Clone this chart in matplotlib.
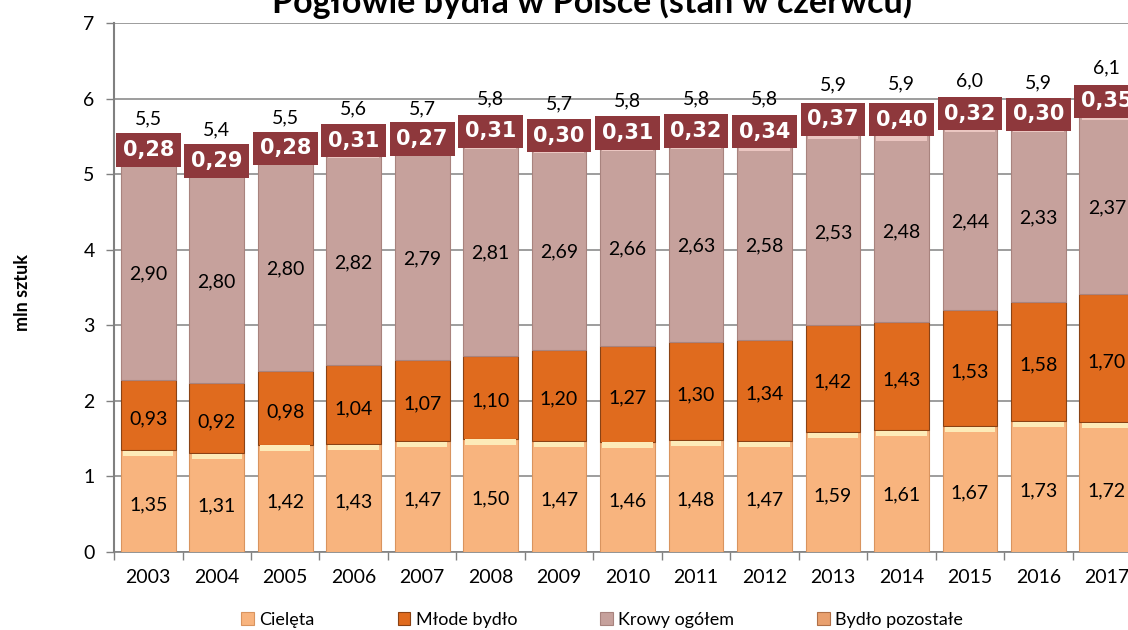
import matplotlib.pyplot as plt
import numpy as np

# data
years = ["2003", "2004", "2005", "2006", "2007", "2008", "2009", "2010",
         "2011", "2012", "2013", "2014", "2015", "2016", "2017"]
cieleta = [1.35, 1.31, 1.42, 1.43, 1.47, 1.50, 1.47, 1.46, 1.48, 1.47, 1.59, 1.61, 1.67, 1.73, 1.72]
mlode = [0.93, 0.92, 0.98, 1.04, 1.07, 1.10, 1.20, 1.27, 1.30, 1.34, 1.42, 1.43, 1.53, 1.58, 1.70]
krowy = [2.90, 2.80, 2.80, 2.82, 2.79, 2.81, 2.69, 2.66, 2.63, 2.58, 2.53, 2.48, 2.44, 2.33, 2.37]
pozostale = [0.28, 0.29, 0.28, 0.31, 0.27, 0.31, 0.30, 0.31, 0.32, 0.34, 0.37, 0.40, 0.32, 0.30, 0.35]
totals = [5.5, 5.4, 5.5, 5.6, 5.7, 5.8, 5.7, 5.8, 5.8, 5.8, 5.9, 5.9, 6.0, 5.9, 6.1]
series_names = ["Cielęta", "Młode bydło", "Krowy ogółem", "Bydło pozostałe"]

plt.rcParams["font.family"] = ["Lato", "DejaVu Sans"]

def fmt(v, n=2):
    return f"{v:.{n}f}".replace(".", ",")

fig = plt.figure(figsize=(11.28, 6.3), dpi=100)
# plot area runs off the right edge like in the reference
ax = fig.add_axes([0.1011, 0.1238, 0.9105, 0.8397])

x = np.arange(len(years))
w = 0.8
colors = ["#F8B47E", "#E06B1E", "#C6A19C", "#E9A06E"]
edges = ["#D9945F", "#8A4214", "#A8837E", "#B07048"]
highlights = ["#FDEBB8", None, "#EBC6C1", None]

#// stacked bars
bottom = np.zeros(len(years))
bars = []
for vals, c, ec, hl, name in zip([cieleta, mlode, krowy, pozostale], colors, edges, highlights, series_names):
    b = ax.bar(x, vals, w, bottom=bottom, color=c, edgecolor=ec, linewidth=0.8, label=name, zorder=3)
    bars.append(b)
    top = bottom + np.array(vals)
    # bevel highlight at top of segment
    if hl:
        ax.bar(x, 0.07, w * 0.92, bottom=top - 0.08, color=hl, linewidth=0, zorder=3.5)
    bottom = top

#// segment labels
b1 = np.zeros(len(years))
for vals in [cieleta, mlode, krowy]:
    for i, v in enumerate(vals):
        ax.text(x[i], b1[i] + v / 2 - 0.05, fmt(v), ha="center", va="center", fontsize=14, color="black", zorder=5)
    b1 = b1 + np.array(vals)

# boxed labels for Bydło pozostałe
for i, v in enumerate(pozostale):
    ax.text(x[i], b1[i] + v / 2, fmt(v), ha="center", va="center", fontsize=15, fontweight="bold",
            family="DejaVu Sans", color="white", zorder=6,
            bbox=dict(boxstyle="square,pad=0.32", facecolor="#8E383C", edgecolor="none"))

# totals above the bars
for i, t in enumerate(totals):
    ax.text(x[i], bottom[i] + 0.27, fmt(t, 1), ha="center", va="center", fontsize=14, zorder=6)

ax.set_xlim(-0.5, len(years) - 0.5)
ax.set_ylim(0, 7)
ax.set_yticks(range(0, 8))
ax.set_xticks(x)
ax.set_xticklabels(years)
ax.set_xticks(np.arange(-0.5, len(years)), minor=True)
ax.tick_params(axis="x", which="major", length=0, labelsize=14, pad=12)
ax.tick_params(axis="x", which="minor", length=6, color="#808080", width=1)
ax.tick_params(axis="y", length=6, color="#808080", width=1, labelsize=14, pad=8)

ax.grid(axis="y", color="#8C8C8C", linewidth=1.2, zorder=0)
ax.set_axisbelow(True)
for s in ["top", "right"]:
    ax.spines[s].set_visible(False)
ax.spines["left"].set_color("#808080")
ax.spines["left"].set_linewidth(1.5)
ax.spines["bottom"].set_color("#808080")
ax.spines["bottom"].set_linewidth(1.2)

fig.text(0.02, 0.535, "mln sztuk", rotation=90, ha="center", va="center", fontsize=13, fontweight="bold")
fig.text(0.525, 0.979, "Pogłowie bydła w Polsce (stan w czerwcu)", ha="center", va="baseline",
         fontsize=24.5, fontweight="bold")

fig.legend(handles=bars, labels=series_names, loc="center", bbox_to_anchor=(0.534, 0.016), ncol=4,
           frameon=False, fontsize=13, handlelength=0.7, handleheight=0.7, handletextpad=0.3,
           columnspacing=4.6)

plt.savefig("out.png", dpi=100)
